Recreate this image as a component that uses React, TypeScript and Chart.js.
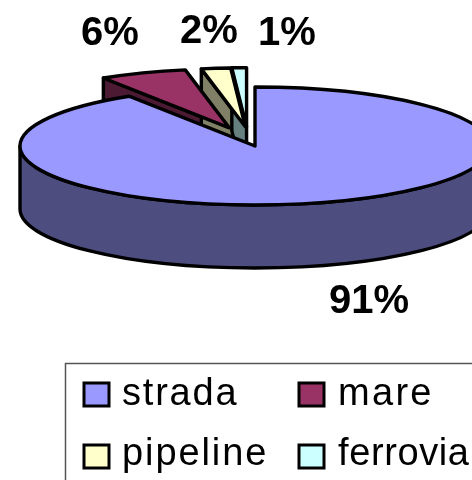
import React, { useEffect, useRef } from "react";
import { Chart, registerables } from "chart.js";

Chart.register(...registerables);

const categories = ["strada", "mare", "pipeline", "ferrovia"];
const shares = [91, 6, 2, 1];
const topColors = ["#9999FF", "#993366", "#FFFFCC", "#CCFFFF"];
const sideColors = ["#4D4D80", "#4D1A33", "#808066", "#668080"];
const explode = [0, 78, 77, 77];
const nudgeX = [0, 3, 0, -6];

const RADIUS = 235;
const SQUASH = 0.251;
const CENTER_Y = 146;
const DEPTH = 63;
const LINE = 3.4;

const pctAnchors = [
  [369, 313],
  [110, 45],
  [209, 43],
  [287, 45],
];
const legendSlots = [
  [84, 383, 122, 405],
  [299, 383, 338, 405],
  [84, 445, 122, 465],
  [299, 445, 338, 465],
];
const legendTracking = ["1.8px", "2.3px", "1.9px", "0.6px"];

function chartMidY(chart: any) {
  return (chart.chartArea.top + chart.chartArea.bottom) / 2;
}

function geom(chart: any, arc: any) {
  return {
    cx: arc.x,
    cy: CENTER_Y + (arc.y - chartMidY(chart)) * SQUASH,
    s: arc.startAngle,
    e: arc.endAngle,
    r: arc.outerRadius,
  };
}

const pie3d = {
  id: "pie3d",
  afterDatasetsUpdate(chart: any) {
    const arcs = chart.getDatasetMeta(0).data;
    arcs.forEach((arc: any, i: number) => {
      const mid = (arc.startAngle + arc.endAngle) / 2;
      arc.x += Math.cos(mid) * explode[i] + nudgeX[i];
      arc.y += Math.sin(mid) * explode[i];
    });
  },
  beforeDatasetsDraw(chart: any) {
    const ctx = chart.ctx;
    const arcs = chart.getDatasetMeta(0).data;
    ctx.save();
    ctx.lineWidth = LINE;
    ctx.strokeStyle = "#000";
    ctx.lineJoin = "round";
    // cut faces of the exploded slices, back to front
    for (let i = 1; i < arcs.length; i++) {
      const g = geom(chart, arcs[i]);
      const ox = g.cx + g.r * Math.cos(g.s);
      const oy = g.cy + g.r * SQUASH * Math.sin(g.s);
      ctx.beginPath();
      ctx.moveTo(ox, oy);
      ctx.lineTo(g.cx, g.cy);
      ctx.lineTo(g.cx, g.cy + DEPTH);
      ctx.lineTo(ox, oy + DEPTH);
      ctx.closePath();
      ctx.fillStyle = sideColors[i];
      ctx.fill();
      ctx.stroke();
    }
    // rim of the main slice
    const g = geom(chart, arcs[0]);
    ctx.beginPath();
    ctx.ellipse(g.cx, g.cy, g.r, g.r * SQUASH, 0, 0, Math.PI, false);
    ctx.ellipse(g.cx, g.cy + DEPTH, g.r, g.r * SQUASH, 0, Math.PI, 0, true);
    ctx.closePath();
    ctx.fillStyle = sideColors[0];
    ctx.fill();
    ctx.stroke();
    ctx.restore();

    // tops are filled by the library under a flattening transform
    ctx.save();
    ctx.translate(0, CENTER_Y);
    ctx.scale(1, SQUASH);
    ctx.translate(0, -chartMidY(chart));
  },
  afterDatasetsDraw(chart: any) {
    const ctx = chart.ctx;
    ctx.restore();
    const arcs = chart.getDatasetMeta(0).data;
    ctx.save();
    ctx.lineWidth = LINE;
    ctx.strokeStyle = "#000";
    ctx.lineJoin = "round";
    for (let i = arcs.length - 1; i >= 0; i--) {
      const g = geom(chart, arcs[i]);
      ctx.beginPath();
      ctx.moveTo(g.cx, g.cy);
      ctx.ellipse(g.cx, g.cy, g.r, g.r * SQUASH, 0, g.s, g.e, false);
      ctx.closePath();
      ctx.stroke();
    }
    ctx.restore();

    // percentage labels
    ctx.save();
    ctx.fillStyle = "#000";
    ctx.font = "bold 40px 'Liberation Sans'";
    ctx.textAlign = "center";
    ctx.textBaseline = "alphabetic";
    shares.forEach((v, i) => {
      ctx.fillText(`${v}%`, pctAnchors[i][0], pctAnchors[i][1]);
    });
    ctx.restore();

    // legend
    ctx.save();
    ctx.strokeStyle = "#555";
    ctx.lineWidth = 1.5;
    ctx.beginPath();
    ctx.moveTo(65.5, 490);
    ctx.lineTo(65.5, 363.5);
    ctx.lineTo(480, 363.5);
    ctx.stroke();
    ctx.font = "38px 'Liberation Sans'";
    ctx.textAlign = "left";
    categories.forEach((name, i) => {
      const [bx, by, tx, ty] = legendSlots[i];
      ctx.fillStyle = topColors[i];
      ctx.fillRect(bx, by, 25, 23);
      ctx.strokeStyle = "#000";
      ctx.lineWidth = 3;
      ctx.strokeRect(bx, by, 25, 23);
      ctx.fillStyle = "#000";
      (ctx as any).letterSpacing = legendTracking[i];
      ctx.fillText(name, tx, ty);
    });
    ctx.restore();
  },
};

export default function App() {
  const ref = useRef<HTMLCanvasElement>(null);
  useEffect(() => {
    document.body.style.margin = "0";
    const chart = new Chart(ref.current as HTMLCanvasElement, {
      type: "pie",
      data: {
        labels: categories,
        datasets: [
          {
            data: shares,
            backgroundColor: topColors,
            borderWidth: 0,
            clip: false,
          } as any,
        ],
      },
      options: {
        responsive: false,
        animation: false,
        radius: RADIUS,
        layout: { padding: { left: 38 } },
        plugins: { legend: { display: false }, tooltip: { enabled: false }, title: { display: false } },
      } as any,
      plugins: [pie3d],
    });
    return () => chart.destroy();
  }, []);
  return <canvas ref={ref} width={472} height={480} style={{ display: "block" }} />;
}
